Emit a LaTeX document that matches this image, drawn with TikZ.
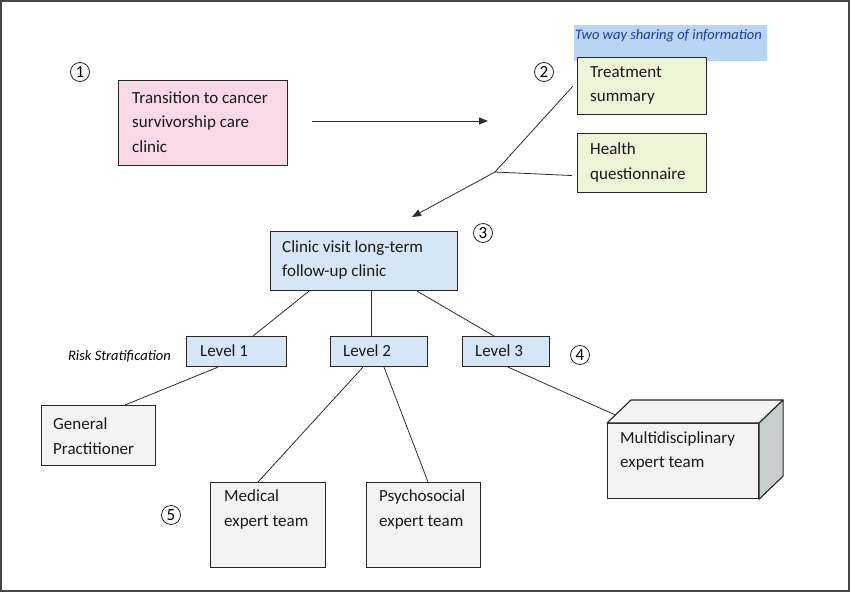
\documentclass[tikz,border=0pt]{standalone}
\usepackage{fontspec}
\setmainfont{Carlito}
\usetikzlibrary{arrows.meta,calc}
\definecolor{pinkf}{RGB}{249,217,230}
\definecolor{greenf}{RGB}{238,244,214}
\definecolor{bluef}{RGB}{214,230,246}
\definecolor{grayf}{RGB}{243,243,243}
\definecolor{sidef}{RGB}{200,205,205}
\definecolor{labelf}{RGB}{184,214,242}
\definecolor{labeltxt}{RGB}{30,60,150}
\definecolor{framec}{RGB}{70,70,70}
\definecolor{linec}{RGB}{45,45,45}
\tikzset{
  box/.style={draw=black!85, line width=1.1pt, anchor=north west, inner sep=0pt, rectangle},
  boxtxt/.style={font=\fontsize{17}{24.5}\selectfont, align=left, inner sep=0pt, anchor=west, text=black!90},
  conn/.style={draw=linec, line width=0.8pt},
  arr/.style={conn, -{Triangle[length=9pt,width=7pt]}},
  num/.style={circle, draw=black!85, line width=0.8pt, minimum size=19pt, inner sep=0pt, font=\fontsize{17}{17}\selectfont},
  ital/.style={font=\fontsize{14.5}{14.5}\itshape\selectfont, inner sep=0pt}
}
\begin{document}
\begin{tikzpicture}[x=1pt,y=-1pt]
\useasboundingbox (0,0) rectangle (850,592);
\fill[white] (0,0) rectangle (850,592);
\draw[framec, line width=1.6pt] (0.8,0.8) rectangle (849.2,591.2);

% circled numbers
\node[num] (n1) at (80,72) {1};
\node[num] (n2) at (544,72) {2};
\node[num] (n3) at (483,233) {3};
\node[num] (n4) at (580,355) {4};
\node[num] (n5) at (171,515) {5};

% label for info sharing
\node[fill=labelf, anchor=north west, minimum width=193pt, minimum height=36pt, inner sep=0pt] (share) at (574,25) {};
\node[ital, text=labeltxt, anchor=west] (sharet) at (575,36) {Two way sharing of information};

% boxes
\node[box, fill=pinkf, minimum width=169pt, minimum height=85pt] (pink) at (118,80) {};
\node[boxtxt] (pinkt) at (132,122) {Transition to cancer\\survivorship care\\clinic};

\node[box, fill=greenf, minimum width=129pt, minimum height=57pt] (treat) at (577,57) {};
\node[boxtxt] (treatt) at (590,85.5) {Treatment\\summary};

\node[box, fill=greenf, minimum width=129pt, minimum height=59pt] (health) at (577,133) {};
\node[boxtxt] (healtht) at (590,162.5) {Health\\questionnaire};

\node[box, fill=bluef, minimum width=187pt, minimum height=59pt] (clinic) at (270,231) {};
\node[boxtxt] (clinict) at (282,260) {Clinic visit long-term\\follow-up clinic};

\node[box, fill=bluef, minimum width=100pt, minimum height=30pt] (l1) at (186,336) {};
\node[boxtxt] (l1t) at (200,351) {Level 1};
\node[box, fill=bluef, minimum width=97pt, minimum height=30pt] (l2) at (330,336) {};
\node[boxtxt] (l2t) at (343,351) {Level 2};
\node[box, fill=bluef, minimum width=87pt, minimum height=30pt] (l3) at (462,336) {};
\node[boxtxt] (l3t) at (475,351) {Level 3};

\node[ital, anchor=east] (risk) at (171,356) {Risk Stratification};

\node[box, fill=grayf, minimum width=114pt, minimum height=60pt] (gp) at (41,405) {};
\node[boxtxt] (gpt) at (53,436) {General\\Practitioner};

\node[box, fill=grayf, minimum width=115pt, minimum height=85pt] (med) at (210,482) {};
\node[boxtxt] (medt) at (224,509.5) {Medical\\expert team};

\node[box, fill=grayf, minimum width=114pt, minimum height=85pt] (psy) at (366,482) {};
\node[boxtxt] (psyt) at (379,509.5) {Psychosocial\\expert team};

% cube
\node[box, fill=grayf, minimum width=151pt, minimum height=75pt] (cube) at (607,423) {};
\coordinate (cbnw) at ([xshift=24pt,yshift=23pt]cube.north west);
\coordinate (cbne) at ([xshift=24pt,yshift=23pt]cube.north east);
\coordinate (cbse) at ([xshift=24pt,yshift=23pt]cube.south east);
\filldraw[fill=grayf, draw=black!85, line width=1.1pt, line join=round] (cube.north west) -- (cbnw) -- (cbne) -- (cube.north east) -- cycle;
\filldraw[fill=sidef, draw=black!85, line width=1.1pt, line join=round] (cube.north east) -- (cbne) -- (cbse) -- (cube.south east) -- cycle;
\node[boxtxt] (cubet) at (620,451) {Multidisciplinary\\expert team};

% connectors top
\coordinate (a1s) at (312,121);
\coordinate (a1e) at (488,121);
\draw[arr] (a1s) -- (a1e);
\coordinate (junc) at (495,172);
\coordinate (aend) at (412,217);
\draw[conn] ([xshift=-4pt]treat.west) -- (junc);
\draw[conn] ([xshift=-5pt,yshift=-12.5pt]health.west) -- (junc);
\draw[arr] (junc) -- (aend);

% clinic to levels
\draw[conn] ([xshift=39pt]clinic.south west) -- ([xshift=67pt]l1.north west);
\draw[conn] ([xshift=101pt]clinic.south west) -- ([xshift=41pt]l2.north west);
\draw[conn] ([xshift=147pt]clinic.south west) -- ([xshift=32pt]l3.north west);

% levels to teams
\draw[conn] ([xshift=32pt]l1.south west) -- ([xshift=84pt]gp.north west);
\draw[conn] ([xshift=33pt]l2.south west) -- ([xshift=48pt]med.north west);
\draw[conn] ([xshift=54pt]l2.south west) -- ([xshift=62pt]psy.north west);
\draw[conn] ([xshift=46pt]l3.south west) -- ($(cube.north west)!0.35!(cbnw)$);
\end{tikzpicture}
\end{document}
